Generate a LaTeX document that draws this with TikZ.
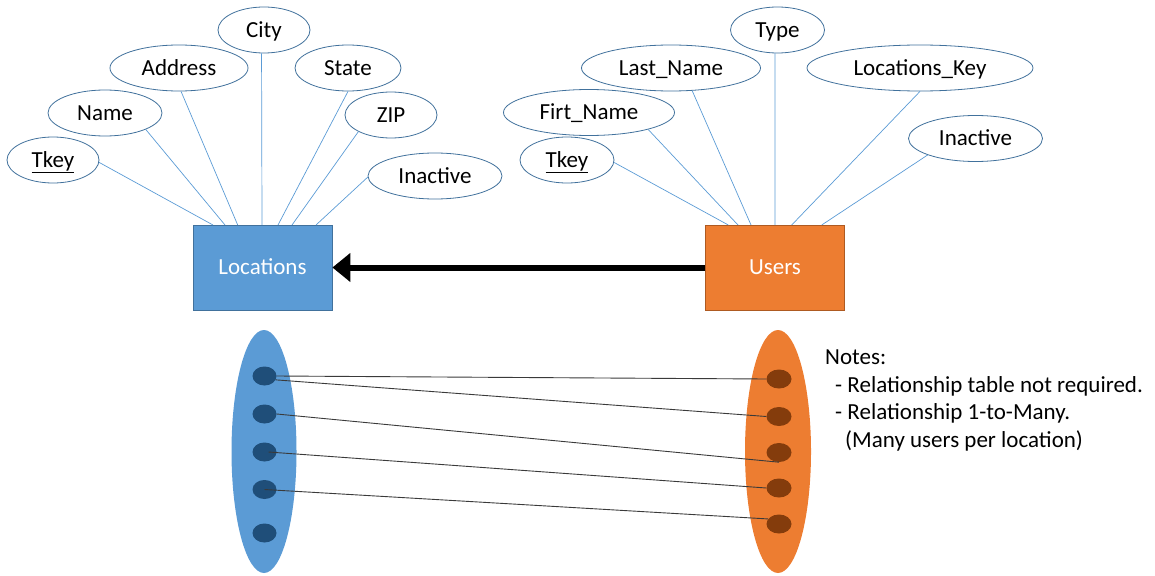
\documentclass[tikz,border=0pt]{standalone}
\usepackage{fontspec}
\setmainfont{Carlito}
\usetikzlibrary{shapes.geometric,arrows.meta}
\definecolor{attrcol}{HTML}{5B9BD5}
\definecolor{ellborder}{HTML}{41719C}
\definecolor{locblue}{HTML}{5B9BD5}
\definecolor{usrorange}{HTML}{ED7D31}
\definecolor{usrborder}{HTML}{AE5A21}
\definecolor{dotblue}{HTML}{1F4E79}
\definecolor{dotbrown}{HTML}{843C0C}
\definecolor{linkgray}{HTML}{3A3A3A}
\begin{document}
\begin{tikzpicture}[x=1pt,y=-1pt,
  every node/.style={font=\fontsize{23}{27}\selectfont},
  attrell/.style={ellipse, draw=ellborder, line width=0.8pt, fill=white, inner sep=0pt,
    minimum height=46pt, text height=14.5pt, text depth=0pt},
  entity/.style={rectangle, minimum width=139pt, minimum height=85pt, text=white,
    line width=0.8pt, text height=14.5pt, text depth=0pt},
  attrlink/.style={draw=attrcol, line width=0.7pt},
  setell/.style={ellipse, inner sep=0pt, minimum width=65pt, minimum height=243pt},
  dotell/.style={ellipse, inner sep=0pt, minimum width=24pt, minimum height=19pt},
  link/.style={draw=linkgray, line width=0.9pt},
  note/.style={anchor=base west, inner sep=0pt},
  bigarrow/.style={line width=6pt, -{Triangle[length=18pt,width=28pt]}}
]
\useasboundingbox (0,0) rectangle (1155,575);

% ---------- Locations entity ----------
\node[entity, fill=locblue, draw=ellborder] (loc) at (262.5,267.5) {Locations};
\node[attrell, minimum width=92pt]  (ltkey)  at (53,160)  {\underline{Tkey}};
\node[attrell, minimum width=114pt] (lname)  at (105,113) {Name};
\node[attrell, minimum width=138pt] (laddr)  at (179,68)  {Address};
\node[attrell, minimum width=92pt]  (lcity)  at (264,30)  {City};
\node[attrell, minimum width=106pt] (lstate) at (348,68)  {State};
\node[attrell, minimum width=92pt]  (lzip)   at (391,115) {ZIP};
\node[attrell, minimum width=134pt] (linact) at (435,176) {Inactive};

\coordinate (la1) at (213,225);
\coordinate (la2) at (225,225);
\coordinate (la3) at (237.7,225);
\coordinate (la4) at (262,225);
\coordinate (la5) at (278,225);
\coordinate (la6) at (292,225);
\coordinate (la7) at (316,225);
\draw[attrlink] (ltkey.-3) -- (la1);
\draw[attrlink] (lname.-22) -- (la2);
\draw[attrlink] (laddr.-85) -- (la3);
\draw[attrlink] (lcity.-96) -- (la4);
\draw[attrlink] (lstate.-90) -- (la5);
\draw[attrlink] (lzip.-153) -- (la6);
\draw[attrlink] (linact.-179) -- (la7);

% ---------- Users entity ----------
\node[entity, fill=usrorange, draw=usrborder] (usr) at (775,267.5) {Users};
\node[attrell, minimum width=94pt]  (rtkey)  at (567,160)    {\underline{Tkey}};
\node[attrell, minimum width=171pt] (rfirst) at (589,112.5)  {Firt\_Name};
\node[attrell, minimum width=179pt] (rlast)  at (671,68)     {Last\_Name};
\node[attrell, minimum width=94pt]  (rtype)  at (777.5,30)   {Type};
\node[attrell, minimum width=226pt] (rlkey)  at (920,68)     {Locations\_Key};
\node[attrell, minimum width=134pt] (rinact) at (975.5,138.5) {Inactive};

\coordinate (ra1) at (728.3,225);
\coordinate (ra2) at (738,225);
\coordinate (ra3) at (751,225);
\coordinate (ra4) at (775,225);
\coordinate (ra5) at (791.7,225);
\coordinate (ra6) at (821.7,225);
\draw[attrlink] (rtkey.-3) -- (ra1);
\draw[attrlink] (rfirst.-16) -- (ra2);
\draw[attrlink] (rlast.-47) -- (ra3);
\draw[attrlink] (rtype.-96) -- (ra4);
\draw[attrlink] (rlkey.-90) -- (ra5);
\draw[attrlink] (rinact.-161) -- (ra6);

% ---------- relationship arrow ----------
\draw[bigarrow] (usr.west) -- (loc.east);

% ---------- set diagram ----------
\node[setell, fill=locblue] (lset) at (264,451.5) {};
\node[setell, fill=usrorange, minimum width=66pt] (rset) at (778,451.5) {};
\node[dotell, fill=dotblue] (ld1) at (264.5,376) {};
\node[dotell, fill=dotblue] (ld2) at (264.5,414) {};
\node[dotell, fill=dotblue] (ld3) at (264.5,452) {};
\node[dotell, fill=dotblue] (ld4) at (264.5,489.5) {};
\node[dotell, fill=dotblue] (ld5) at (264.5,533) {};
\node[dotell, fill=dotbrown, minimum width=25pt] (rd1) at (779,379) {};
\node[dotell, fill=dotbrown, minimum width=25pt] (rd2) at (779,416.5) {};
\node[dotell, fill=dotbrown, minimum width=25pt] (rd3) at (779,452.5) {};
\node[dotell, fill=dotbrown, minimum width=25pt] (rd4) at (779,488) {};
\node[dotell, fill=dotbrown, minimum width=25pt] (rd5) at (779,524) {};

\draw[link] (ld1.east) -- (rd1.west);
\draw[link] (ld1.-19) -- (rd2.west);
\draw[link] (ld2.east) -- (rd3.south);
\draw[link] ([xshift=4pt]ld3.center) -- (rd4.west);
\draw[link] (ld4.center) -- (rd5.155);

% ---------- notes ----------
\node[note] (n1) at (825,364)   {Notes:};
\node[note] (n2) at (835,392)   {- Relationship table not required.};
\node[note] (n3) at (835,419.5) {- Relationship 1-to-Many.};
\node[note] (n4) at (845,447)   {(Many users per location)};
\end{tikzpicture}
\end{document}
